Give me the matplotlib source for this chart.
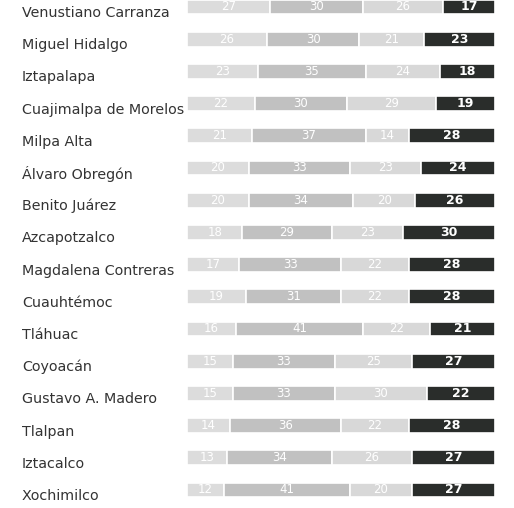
import numpy as np
import matplotlib
matplotlib.use('Agg')
import matplotlib.pyplot as plt
import matplotlib.transforms as mtransforms

alcaldias = ['Venustiano Carranza', 'Miguel Hidalgo', 'Iztapalapa', 'Cuajimalpa de Morelos',
             'Milpa Alta', 'Álvaro Obregón', 'Benito Juárez', 'Azcapotzalco',
             'Magdalena Contreras', 'Cuauhtémoc', 'Tláhuac', 'Coyoacán',
             'Gustavo A. Madero', 'Tlalpan', 'Iztacalco', 'Xochimilco']
seg1 = [27, 26, 23, 22, 21, 20, 20, 18, 17, 19, 16, 15, 15, 14, 13, 12]
seg2 = [30, 30, 35, 30, 37, 33, 34, 29, 33, 31, 41, 33, 33, 36, 34, 41]
seg3 = [26, 21, 24, 29, 14, 23, 20, 23, 22, 22, 22, 25, 30, 22, 26, 20]
seg4 = [17, 23, 18, 19, 28, 24, 26, 30, 28, 28, 21, 27, 22, 28, 27, 27]

colores = ['#dcdcdc', '#c1c1c1', '#d8d8d8', '#2a2d2b']
segs = [seg1, seg2, seg3, seg4]

fig = plt.figure(figsize=(5.14, 5.08), dpi=100)
ax = fig.add_axes([187/514, 0, (495-187)/514, 1])

y = np.arange(len(alcaldias))
izq = np.zeros(len(alcaldias))
for i, s in enumerate(segs):
    s = np.array(s)
    ax.barh(y, s, left=izq, height=0.46, color=colores[i], edgecolor='white', linewidth=1.2)
    for j in range(len(y)):
        ax.text(izq[j] + s[j] / 2, y[j], str(s[j]), ha='center', va='center',
                color='white', fontsize=9 if i == 3 else 8.5,
                fontweight='bold' if i == 3 else 'normal')
    izq = izq + s

ax.set_xlim(0, 100)
ax.set_ylim(15.56, -0.217)
ax.axis('off')

# nombres a la izquierda, un poco por debajo del centro de la barra
trans = mtransforms.blended_transform_factory(fig.transFigure, ax.transData)
trans = mtransforms.offset_copy(trans, fig=fig, y=-6, units='dots')
for j, nombre in enumerate(alcaldias):
    ax.text(22/514, y[j], nombre, transform=trans, ha='left', va='center',
            fontsize=10.3, color='#333333')

plt.savefig('out.png', dpi=100)
plt.close()
